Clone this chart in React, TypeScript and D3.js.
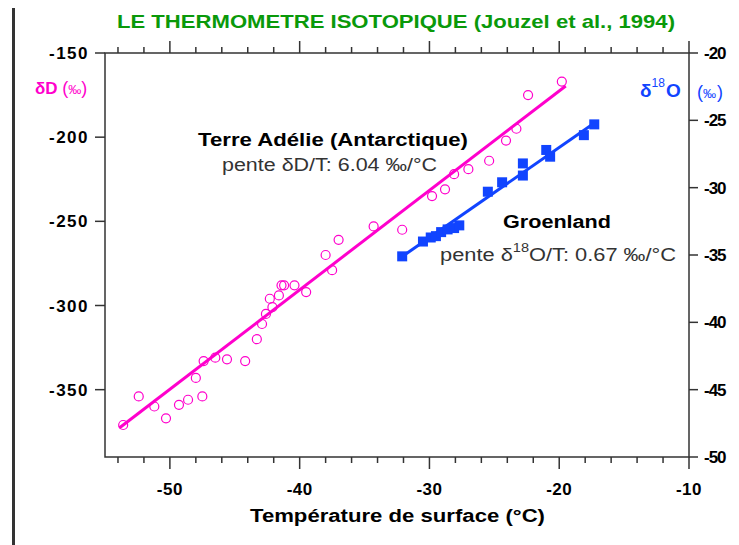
import React from 'react';
import * as d3 from 'd3';

// Terre Adélie (Antarctique): température de surface (°C) vs δD (‰)
const antTemp = [-53.6, -52.4, -51.2, -50.3, -49.3, -48.6, -48.0, -47.5, -47.4, -46.5, -45.6, -44.2,
  -43.3, -42.9, -42.6, -42.3, -42.1, -41.6, -41.4, -41.2, -40.4, -39.5, -38.0, -37.5, -37.0, -34.3,
  -32.1, -29.8, -28.8, -28.1, -27.0, -25.4, -24.1, -23.3, -22.4, -19.8];
const antDD = [-371, -354, -360, -367, -359, -356, -343, -354, -333, -331, -332, -333,
  -320, -311, -305, -296, -301, -294, -288, -288, -288, -292, -270, -279, -261, -253,
  -255, -235, -231, -222, -219, -214, -202, -195, -175, -167];

// Groenland: température de surface (°C) vs δ18O (‰)
const grTemp = [-32.1, -30.5, -29.9, -29.5, -29.1, -28.6, -28.1, -27.7, -25.5, -24.4, -22.8, -22.8,
  -21.0, -20.7, -18.1, -17.3];
const grD18O = [-35.1, -34.0, -33.7, -33.6, -33.3, -33.1, -33.0, -32.8, -30.3, -29.6, -29.1, -28.2,
  -27.2, -27.7, -26.1, -25.3];

// droites de régression (extrémités)
const antFitT = [-53.9, -19.5];
const antFitV = [-372.8, -169.6];
const grFitT = [-32.15, -17.15];
const grFitV = [-35.15, -25.1];

const xTicks = [-50, -40, -30, -20, -10];
const xMinor = [-54, -52, -48, -46, -44, -42, -38, -36, -34, -32, -28, -26, -24, -22, -18, -16, -14, -12];
const leftTicks = [-150, -200, -250, -300, -350];
const rightTicks = [-20, -25, -30, -35, -40, -45, -50];

const MAGENTA = '#ff00cc';
const BLUE = '#1144ff';
const GREEN = '#0a990a';
const FONT = '"Liberation Sans", Arial, sans-serif';

const App = () => {
  const left = 105, right = 689, top = 53, bottom = 457;
  const x = d3.scaleLinear().domain([-55, -10]).range([left, right]);
  const yL = d3.scaleLinear().domain([-390, -150]).range([bottom, top]);
  const yR = d3.scaleLinear().domain([-50, -20]).range([bottom, top]);

  const antLine = d3.line<number>().x(d => x(d)).y((d, i) => yL(antFitV[i]));
  const grLine = d3.line<number>().x(d => x(d)).y((d, i) => yR(grFitV[i]));

  const tickStyle = { stroke: '#333', strokeWidth: 1.5 };
  const labelStyle = { fontFamily: FONT, fontWeight: 'bold' as const, fontSize: 17, letterSpacing: 1.5 };

  return (
    <svg width={739} height={545} style={{ position: 'absolute', left: 0, top: 0, background: '#fff' }}>
      <line x1={13.5} x2={13.5} y1={8} y2={545} stroke="#333" strokeWidth={3} />

      <text x={117} y={28} fill={GREEN} fontFamily={FONT} fontWeight="bold" fontSize={19}
        textLength={558} lengthAdjust="spacingAndGlyphs">LE THERMOMETRE ISOTOPIQUE (Jouzel et al., 1994)</text>

      {/* frame */}
      <path d={`M${left},${top}H${right}V${bottom}H${left}Z`} fill="none" stroke="#333" strokeWidth={1.5} />

      {/* x ticks top & bottom */}
      {xTicks.map(t => (
        <g key={'xt' + t}>
          <line x1={x(t)} x2={x(t)} y1={top} y2={top - 12} {...tickStyle} />
          <line x1={x(t)} x2={x(t)} y1={bottom} y2={bottom + 12} {...tickStyle} />
          <text x={x(t)} y={495} textAnchor="middle" {...labelStyle} letterSpacing={0.5}>{t}</text>
        </g>
      ))}
      {xMinor.map(t => (
        <g key={'xm' + t}>
          <line x1={x(t)} x2={x(t)} y1={top} y2={top - 6} {...tickStyle} />
          <line x1={x(t)} x2={x(t)} y1={bottom} y2={bottom + 6} {...tickStyle} />
        </g>
      ))}

      {/* left axis */}
      {leftTicks.map(t => (
        <g key={'l' + t}>
          <line x1={left - 10} x2={left} y1={yL(t)} y2={yL(t)} {...tickStyle} />
          <text x={89} y={yL(t) + 6} textAnchor="end" {...labelStyle}>{t}</text>
        </g>
      ))}

      {/* right axis */}
      {rightTicks.map(t => (
        <g key={'r' + t}>
          <line x1={right} x2={right + 9} y1={yR(t)} y2={yR(t)} {...tickStyle} />
          <text x={704} y={yR(t) + 6} {...labelStyle} letterSpacing={-1}>{t}</text>
        </g>
      ))}

      {/* axis titles */}
      <text x={35} y={94} fill={MAGENTA} fontFamily={FONT} fontWeight="bold" fontSize={17}>
        δD <tspan fontWeight="normal" fontSize={18}>(</tspan><tspan fontWeight="normal" fontSize={13}>‰</tspan><tspan fontWeight="normal" fontSize={18}>)</tspan>
      </text>
      <text x={640} y={97} fill={BLUE} fontFamily={FONT} fontWeight="bold" fontSize={19}>
        δ<tspan fontSize={12} fontWeight="normal" dy={-10}>18</tspan><tspan dy={10} dx={1}>O</tspan>
      </text>
      <text x={697} y={98} fill={BLUE} fontFamily={FONT} fontSize={18}>
        (<tspan fontSize={13}>‰</tspan><tspan dx={1}>)</tspan>
      </text>
      <text x={250} y={522} fontFamily={FONT} fontWeight="bold" fontSize={18}
        textLength={295} lengthAdjust="spacingAndGlyphs">Température de surface (°C)</text>

      {/* annotations */}
      <text x={198} y={146} fontFamily={FONT} fontWeight="bold" fontSize={18} textLength={270} lengthAdjust="spacingAndGlyphs">
        Terre Adélie (Antarctique)</text>
      <text x={222} y={171} fill="#333" fontFamily={FONT} fontSize={18} textLength={215} lengthAdjust="spacingAndGlyphs">
        pente δD/T: 6.04 ‰/°C</text>
      <text x={503} y={228} fontFamily={FONT} fontWeight="bold" fontSize={18} textLength={108} lengthAdjust="spacingAndGlyphs">
        Groenland</text>
      <text x={440} y={261} fill="#333" fontFamily={FONT} fontSize={18} textLength={236} lengthAdjust="spacingAndGlyphs">
        pente δ<tspan fontSize={12} dy={-9}>18</tspan><tspan dy={9}>O/T: 0.67 ‰/°C</tspan>
      </text>

      {/* regression lines */}
      <path d={antLine(antFitT) || ''} stroke={MAGENTA} strokeWidth={3} fill="none" />
      <path d={grLine(grFitT) || ''} stroke={BLUE} strokeWidth={3} fill="none" />

      {/* points */}
      {antTemp.map((t, i) => (
        <circle key={'a' + i} cx={x(t)} cy={yL(antDD[i])} r={4.5} fill="none" stroke={MAGENTA} strokeWidth={1.2} />
      ))}
      {grTemp.map((t, i) => (
        <rect key={'g' + i} x={x(t) - 5} y={yR(grD18O[i]) - 5} width={10} height={10} fill={BLUE} />
      ))}
    </svg>
  );
};

export default App;
